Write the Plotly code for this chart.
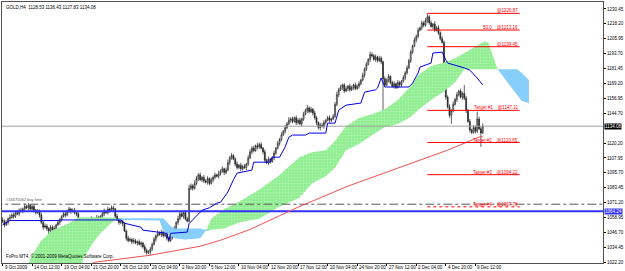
import plotly.graph_objects as go

# ---------------- data ----------------
first_open = 1057.0
closes = [
    1056, 1053, 1055, 1058,
    1059, 1061, 1060, 1063, 1062, 1065, 1064,
    1066, 1068, 1067, 1069, 1066, 1068, 1065,
    1063, 1064, 1061,
    1055, 1051, 1052,
    1050, 1048, 1051, 1049, 1050,
    1053, 1055, 1057, 1060, 1062, 1061, 1064,
    1066, 1064, 1065, 1063, 1062,
    1056, 1053, 1055,
    1056, 1054, 1057, 1055, 1058, 1056, 1057, 1059, 1058, 1060,
    1062, 1064, 1063, 1066, 1065, 1067, 1066,
    1060, 1057, 1055, 1056, 1054,
    1048, 1042, 1040,
    1041, 1039, 1040, 1038, 1039, 1037, 1038, 1035,
    1032, 1030, 1031, 1033,
    1037, 1041, 1044, 1046,
    1045, 1047, 1044, 1045, 1042,
    1040, 1043,
    1047, 1050, 1055, 1058, 1062,
    1060, 1063, 1058, 1056,
    1083,
    1085, 1083, 1087,
    1091, 1094, 1090, 1092,
    1089, 1088, 1091, 1087, 1090,
    1092, 1094, 1093, 1095,
    1097, 1099, 1096, 1098,
    1104, 1108, 1110, 1107,
    1103, 1100, 1102, 1099, 1101, 1100, 1103,
    1108, 1113, 1116, 1114, 1118, 1117, 1119, 1116, 1113,
    1106, 1104, 1107, 1105,
    1108, 1112, 1116, 1120, 1123, 1127, 1130, 1133, 1136, 1139,
    1140, 1138, 1141, 1137, 1139, 1136, 1140,
    1144, 1147, 1149, 1146, 1148, 1145,
    1141, 1137, 1133, 1135, 1134, 1137, 1139,
    1141, 1139, 1140, 1142,
    1152, 1160, 1164,
    1166, 1168, 1163, 1165, 1167, 1164, 1166, 1168, 1165, 1167, 1169,
    1172, 1176, 1181, 1185, 1189, 1193, 1192,
    1189, 1191, 1188, 1190, 1187,
    1173,
    1168, 1172, 1175, 1170, 1167, 1169, 1166,
    1170, 1168, 1171, 1174, 1178, 1182, 1188,
    1195, 1200, 1205, 1208, 1213,
    1215, 1219, 1217, 1221,
    1224,
    1219, 1216, 1218, 1213, 1215, 1211,
    1206, 1203,
    1170,
    1158, 1150, 1143, 1147,
    1152, 1156, 1160, 1163, 1158, 1161, 1157,
    1147, 1138, 1131,
    1129, 1133, 1130,
    1140,
    1132, 1128.53, 1134.08,
]
wick_up = [
    2, 1.5, 2, 1, 2.5, 1.5, 2, 1, 2, 1.5,
    2, 1, 2.5, 1.5, 2, 1, 1.5, 2, 1, 2,
    1.5, 2, 1, 2, 1.5, 1, 2, 1.5, 2, 1,
    2, 1.5, 1, 2, 2.5, 1.5, 2, 1, 1.5, 2,
    1, 2, 1.5, 2, 1, 1.5, 2, 1, 2, 1.5,
    1, 2, 1.5, 1, 2, 2.5, 1.5, 2, 1, 2,
    1.5, 1, 2, 1.5, 1, 2, 1.5, 1, 2, 1.5,
    1, 2, 1.5, 1, 2, 1.5, 1, 2, 1.5, 1,
    2, 1.5, 2, 1, 2.5, 1.5, 2, 1, 1.5, 2,
    1, 2, 1.5, 2, 1, 2.5, 1.5, 2, 1, 2,
    1.5, 3, 2, 1.5, 2.5, 2, 1.5, 2, 1, 2,
    1.5, 2, 1, 2, 1.5, 2, 1, 2.5, 1.5, 2,
    1, 2, 2.5, 1.5, 2, 1, 1.5, 2, 1, 2,
    1.5, 2, 1, 2.5, 2, 1.5, 2, 1, 2.5, 1.5,
    2, 1, 2, 1.5, 2, 1, 1.5, 2, 1, 2,
    1.5, 2, 1, 2, 1.5, 2.5, 1.5, 2, 1, 2,
    1.5, 2, 1, 2, 1.5, 2.5, 1.5, 2, 1, 2,
    1.5, 1, 2, 1.5, 2, 1, 1.5, 2, 1, 2,
    2, 2.5, 1.5, 2, 1, 1.5, 2, 1, 2, 1.5,
    1, 2, 1.5, 2, 1, 2, 1.5, 2, 1, 2.5,
    2, 1.5, 2, 1, 2, 1.5, 1, 2, 1.5, 2,
    1, 1.5, 2, 1, 2, 1.5, 1, 2, 1.5, 2,
    1.5, 2, 1, 2, 1.5, 2, 1, 2, 1.5, 2,
    2.9, 1.5, 2, 1, 2.5, 1.5, 2, 1, 2, 1.5,
    2, 1.5, 2, 1, 2.5, 1.5, 2, 1, 2, 1.5,
    7, 2, 1.5, 2, 1, 2, 1.5, 6, 2, 1.5,
    2.35,
]
wick_dn = [
    1.5, 2, 1, 2, 1.5, 1, 2, 1.5, 1, 2,
    1, 1.5, 2, 1, 2, 1.5, 1, 2, 1.5, 1,
    2, 1.5, 2, 1, 2, 2.5, 1.5, 2, 1, 1.5,
    1, 2, 1.5, 1, 2, 1, 1.5, 2, 1, 1.5,
    2, 1.5, 1, 2, 1.5, 2, 1, 1.5, 2, 1,
    1.5, 1, 2, 1.5, 1, 2, 1, 1.5, 2, 1,
    2, 1.5, 1, 2, 1.5, 2, 1, 2, 1.5, 1,
    2, 1.5, 1, 2, 1, 2.5, 1.5, 2, 1.5, 1,
    3, 1.5, 1, 2, 1.5, 1, 2, 1.5, 1, 2,
    1.5, 1, 2, 1.5, 1, 2, 1.5, 1, 2, 1.5,
    1, 1, 1.5, 2, 1, 1.5, 2, 1, 2, 1.5,
    1, 2, 1.5, 1, 2, 1.5, 1, 2, 1.5, 1,
    2, 1.5, 1, 2, 1.5, 1, 2, 1.5, 1, 2,
    1.5, 1, 2, 1.5, 1, 2, 1.5, 1, 2, 1.5,
    1, 2, 1.5, 1, 2, 1.5, 1, 2, 1.5, 1,
    2, 1.5, 1, 2, 1.5, 1, 2, 1.5, 1, 2,
    1.5, 1, 2, 1.5, 1, 2, 1.5, 1, 2, 1.5,
    2, 1.5, 2.5, 1, 2, 1.5, 1, 2, 1.5, 1,
    1, 1.5, 2, 1, 2, 1.5, 1, 2, 1.5, 1,
    2, 1.5, 1, 2, 1.5, 1, 2, 1.5, 1, 2,
    1.5, 1, 2, 1.5, 1, 2, 35, 1.5, 1, 2,
    1.5, 1, 2, 1.5, 1, 2, 1.5, 1, 2, 1.5,
    1, 2, 1.5, 1, 2, 1.5, 1, 2, 1.5, 1,
    2, 1.5, 1, 2, 1.5, 1, 2, 1.5, 1, 5,
    2, 1.5, 2, 7, 1.5, 1, 2, 1.5, 1, 2,
    1.5, 2, 1, 2, 1.5, 1, 2, 1.5, 1, 11.5,
    0.7,
]

# Kijun-sen (blue) knots: bar index, price
kijun_bars = [0, 4, 30, 31, 64, 66, 75, 76, 89, 90, 91, 100, 101, 108, 112, 116, 118, 122, 125, 127,
              135, 136, 145, 146, 150, 153, 155, 157, 164, 166, 175, 176, 180, 182, 186, 194, 196,
              202, 203, 205, 207, 220, 222, 225, 226, 232, 233, 238, 240, 241, 250, 253, 257, 260]
kijun_vals = [1053, 1056.5, 1056.5, 1057, 1057, 1054.3, 1051, 1048.6, 1046, 1040.3, 1046, 1047, 1054,
              1065, 1067, 1070.8, 1071.6, 1080, 1090, 1095.5, 1098, 1104.5, 1104.5, 1108.6, 1108.6,
              1117, 1125, 1126.8, 1126.8, 1128.4, 1128.4, 1136.6, 1136.6, 1147.3, 1151.4, 1153.1,
              1162.1, 1164, 1165.4, 1173.7, 1166.3, 1166.3, 1169.5, 1177.8, 1182.7, 1186, 1194.2,
              1195, 1188.5, 1186, 1182, 1180.2, 1173.7, 1168]

# long moving average (red)
ma_bars = [40, 50, 80, 107, 118, 134, 160, 187, 214, 241, 258, 260]
ma_vals = [1016, 1022.2, 1028, 1035.4, 1040.3, 1049.2, 1067.5, 1084.8, 1099.6, 1114.4, 1125.1, 1125.8]

# Ichimoku cloud (Senkou span A / B, shifted 26 bars ahead)
cloud_bars = [13, 16, 21, 27, 36, 41, 44, 50, 53, 58.6, 61, 63, 85, 87, 91, 93, 99, 107, 110, 113,
              120, 128, 139, 150, 160.6, 167.5, 175, 180, 186, 193, 200, 207, 214, 221, 225, 232,
              238.4, 245, 250, 257, 261, 263, 266, 268, 273, 278.6, 281, 285]
span_a = [1018, 1028, 1040, 1048.6, 1054.3, 1059.3, 1059.3, 1059.3, 1059.3, 1059, 1058.5, 1057,
          1056.5, 1048, 1044, 1042, 1041, 1042, 1048, 1058, 1066, 1072, 1082, 1094, 1108.6,
          1112.7, 1114.4, 1122, 1134.2, 1140.8, 1144, 1148, 1155.6, 1167, 1176, 1183.5, 1186,
          1190, 1194.2, 1200, 1204, 1203, 1190, 1181, 1171, 1159.6, 1155, 1153]
span_b = [1000, 1003, 1004, 1005, 1007, 1009, 1026.3, 1040.3, 1046, 1054.3, 1057, 1058.4, 1058.4,
          1058.4, 1052, 1050, 1050, 1050, 1049, 1049, 1050, 1055, 1058, 1068, 1075, 1087, 1093,
          1100, 1114.4, 1119.4, 1126.7, 1133.4, 1135.8, 1141.6, 1147.3, 1155.6, 1162, 1170,
          1181, 1181, 1181, 1181, 1181, 1181, 1181, 1181, 1178, 1172]

# Fibonacci / target levels
fib_levels = [1226.87, 1213.16, 1199.45, 1147.11, 1120.65, 1094.22, 1067.78]
fib_labels = ["@1226.87", "50.0    @1213.16", "@1199.45", "Target #1    @1147.11",
              "Target #2    @1120.65", "Target #3    @1094.22", "Target #4    @1067.78"]
fib_start_bar, fib_end_bar = 230, 280

bid_price = 1134.08
blue_level = 1064.24
buy_limit = 1069.95
buy_limit_label = "#16675062 buy limit"

y_ticks = [1022.20, 1034.45, 1046.70, 1058.95, 1071.20, 1083.45, 1095.70, 1107.95, 1120.20,
           1144.70, 1156.95, 1169.20, 1181.45, 1193.70, 1205.95, 1218.20, 1230.45]
x_tick_bars = [0, 16, 32, 48, 64, 80, 96, 112, 128, 144, 160, 176, 192, 208, 224, 240, 256]
x_tick_text = ["9 Oct 2009", "14 Oct 12:00", "19 Oct 04:00", "21 Oct 20:00", "26 Oct 12:00",
               "29 Oct 04:00", "2 Nov 20:00", "5 Nov 12:00", "10 Nov 04:00", "12 Nov 20:00",
               "17 Nov 12:00", "20 Nov 04:00", "24 Nov 20:00", "27 Nov 12:00", "2 Dec 04:00",
               "4 Dec 20:00", "9 Dec 12:00"]

title_text = "GOLD,H4  1128.53 1136.43 1127.83 1134.08"
copyright_text = "FxPro MT4, \u00a9 2001-2009 MetaQuotes Software Corp."

# ---------------- build ----------------
opens = [first_open] + closes[:-1]
highs = [max(o, c) + u for o, c, u in zip(opens, closes, wick_up)]
lows = [min(o, c) - d for o, c, d in zip(opens, closes, wick_dn)]
bars = list(range(len(closes)))

FONT = "Liberation Sans Narrow, Liberation Sans, Arial, sans-serif"
fig = go.Figure()

lower = [min(a, b) for a, b in zip(span_a, span_b)]
fig.add_trace(go.Scatter(x=cloud_bars, y=lower, mode="lines", line=dict(width=0),
                         hoverinfo="skip", showlegend=False))
fig.add_trace(go.Scatter(x=cloud_bars, y=span_a, mode="lines", line=dict(width=0),
                         fill="tonexty", fillcolor="rgb(144,238,144)",
                         fillpattern=dict(shape=".", bgcolor="rgb(144,238,144)",
                                          fgcolor="rgb(220,250,220)", size=3, solidity=0.25),
                         hoverinfo="skip", showlegend=False))
fig.add_trace(go.Scatter(x=cloud_bars, y=lower, mode="lines", line=dict(width=0),
                         hoverinfo="skip", showlegend=False))
fig.add_trace(go.Scatter(x=cloud_bars, y=span_b, mode="lines", line=dict(width=0),
                         fill="tonexty", fillcolor="rgb(135,206,250)",
                         hoverinfo="skip", showlegend=False))

# horizontal reference lines
x_full = [-5, 330]
fig.add_trace(go.Scatter(x=x_full, y=[bid_price, bid_price], mode="lines",
                         line=dict(color="rgb(160,160,160)", width=1), showlegend=False))
fig.add_trace(go.Scatter(x=x_full, y=[buy_limit, buy_limit], mode="lines",
                         line=dict(color="rgb(90,90,90)", width=1, dash="dashdot"), showlegend=False))
fig.add_trace(go.Scatter(x=x_full, y=[blue_level, blue_level], mode="lines",
                         line=dict(color="rgb(50,50,255)", width=2), showlegend=False))

fig.add_trace(go.Scatter(x=ma_bars, y=ma_vals, mode="lines",
                         line=dict(color="rgb(240,80,80)", width=1), showlegend=False))
fig.add_trace(go.Scatter(x=kijun_bars, y=kijun_vals, mode="lines",
                         line=dict(color="rgb(0,0,230)", width=1), showlegend=False))

fig.add_trace(go.Candlestick(
    x=bars, open=opens, high=highs, low=lows, close=closes,
    increasing=dict(line=dict(color="rgb(30,30,30)", width=0.7), fillcolor="rgb(235,235,235)"),
    decreasing=dict(line=dict(color="rgb(30,30,30)", width=0.7), fillcolor="rgb(40,40,40)"),
    whiskerwidth=0, showlegend=False))

for i, (lvl, lab) in enumerate(zip(fib_levels, fib_labels)):
    fig.add_trace(go.Scatter(x=[fib_start_bar, fib_end_bar], y=[lvl, lvl], mode="lines",
                             line=dict(color="red", width=1,
                                       dash="dot" if i == len(fib_levels) - 1 else "solid"),
                             showlegend=False))
    fig.add_annotation(x=fib_end_bar, y=lvl, text=lab, showarrow=False, xanchor="right",
                       yanchor="bottom", yshift=-2, font=dict(family=FONT, size=4.5, color="red"))

for b, t in zip(x_tick_bars, x_tick_text):
    fig.add_annotation(x=b, y=0, yref="paper", text=t, showarrow=False, xanchor="left",
                       yanchor="top", xshift=0, yshift=0, font=dict(family=FONT, size=4.5, color="black"))

fig.add_annotation(x=0, y=1, xref="paper", yref="paper", text=title_text, showarrow=False,
                   xanchor="left", yanchor="top", xshift=2, yshift=-1,
                   font=dict(family=FONT, size=4.5, color="black"))
fig.add_annotation(x=0, y=0, xref="paper", yref="paper", text=copyright_text, showarrow=False,
                   xanchor="left", yanchor="bottom", xshift=2, yshift=2,
                   font=dict(family=FONT, size=4.5, color="black"))
fig.add_annotation(x=0, y=buy_limit, xref="paper", text=buy_limit_label, showarrow=False,
                   xanchor="left", yanchor="bottom", xshift=2, yshift=0,
                   font=dict(family=FONT, size=4, color="rgb(90,90,90)"))
fig.add_annotation(x=1, y=bid_price, xref="paper", text=f"{bid_price:.2f}", showarrow=False,
                   xanchor="left", yanchor="middle", xshift=1, bgcolor="black", borderpad=0,
                   font=dict(family=FONT, size=4.5, color="white"))
fig.add_annotation(x=1, y=blue_level, xref="paper", text=f"{blue_level:.2f}", showarrow=False,
                   xanchor="left", yanchor="middle", xshift=1, bgcolor="rgb(50,50,255)", borderpad=0,
                   font=dict(family=FONT, size=4.5, color="white"))

fig.update_layout(
    width=625, height=271,
    margin=dict(l=1, r=18, t=2, b=8),
    paper_bgcolor="white", plot_bgcolor="white",
    showlegend=False,
    xaxis=dict(range=[-0.3, 325.1], rangeslider=dict(visible=False), tickvals=x_tick_bars,
               showticklabels=False, ticks="outside", ticklen=2, tickcolor="black",
               showgrid=False, zeroline=False, showline=True, linecolor="rgb(80,80,80)",
               linewidth=1, mirror=True),
    yaxis=dict(range=[1021.6, 1236.2], side="right", tickvals=y_ticks,
               ticktext=[f"{v:.2f}" for v in y_ticks], ticks="outside", ticklen=2,
               tickcolor="black", tickfont=dict(family=FONT, size=4.5, color="black"),
               showgrid=False, zeroline=False, showline=True, linecolor="rgb(80,80,80)",
               linewidth=1, mirror=True),
)

fig.write_html("out.html")
